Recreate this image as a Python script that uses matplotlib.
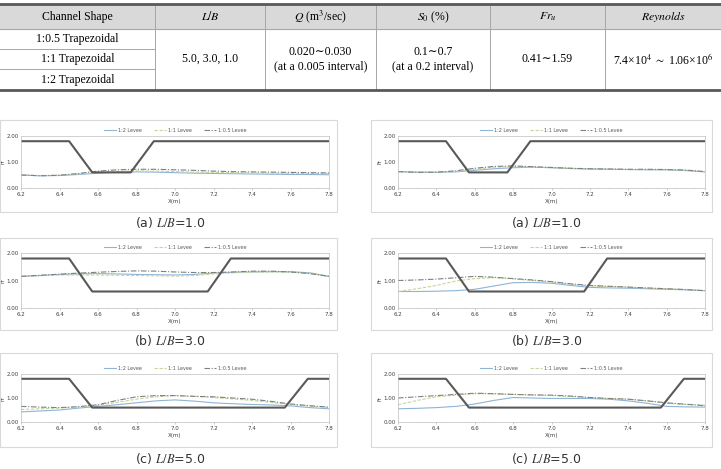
import matplotlib
matplotlib.use("Agg")
import matplotlib.pyplot as plt
from matplotlib.lines import Line2D
from matplotlib.patches import Rectangle

plt.rcParams['mathtext.fontset'] = 'stix'

W, H = 721, 469

# ---- table data ----
table_headers = ["Channel Shape", "$L/B$", "$Q$ (m$^3$/sec)", "$S_0$ (%)", "$Fr_u$", "$Reynolds$"]
channel_shapes = ["1:0.5 Trapezoidal", "1:1 Trapezoidal", "1:2 Trapezoidal"]
lb_text = "5.0, 3.0, 1.0"
q_text = ["0.020\u223c0.030", "(at a 0.005 interval)"]
s0_text = ["0.1\u223c0.7", "(at a 0.2 interval)"]
fr_text = "0.41\u223c1.59"
re_text = "7.4\u00d710$^4$ $\\sim$ 1.06\u00d710$^6$"

# ---- chart data ----
x_fr = [6.2, 6.3, 6.4, 6.5, 6.6, 6.7, 6.8, 6.9, 7.0, 7.1, 7.2, 7.3, 7.4, 7.5, 7.6, 7.7, 7.8]
levee_labels = ["1:2 Levee", "1:1 Levee", "1:0.5 Levee"]

geo_x = {
    1.0: [6.2, 6.45, 6.57, 6.77, 6.89, 7.8],
    3.0: [6.2, 6.45, 6.57, 7.17, 7.29, 7.8],
    5.0: [6.2, 6.45, 6.57, 7.57, 7.69, 7.8],
}
geo_y = [1.8, 1.8, 0.6, 0.6, 1.8, 1.8]

left_lb1 = [
    [0.50, 0.47, 0.48, 0.52, 0.57, 0.61, 0.62, 0.61, 0.59, 0.57, 0.56, 0.55, 0.54, 0.53, 0.52, 0.52, 0.51],
    [0.50, 0.48, 0.49, 0.54, 0.60, 0.64, 0.66, 0.65, 0.63, 0.61, 0.60, 0.59, 0.58, 0.57, 0.56, 0.56, 0.55],
    [0.50, 0.47, 0.49, 0.56, 0.65, 0.70, 0.72, 0.72, 0.70, 0.68, 0.65, 0.63, 0.62, 0.61, 0.60, 0.59, 0.58],
]
right_lb1 = [
    [0.63, 0.61, 0.60, 0.62, 0.68, 0.74, 0.78, 0.80, 0.78, 0.75, 0.73, 0.72, 0.71, 0.70, 0.70, 0.67, 0.62],
    [0.63, 0.61, 0.61, 0.64, 0.72, 0.80, 0.82, 0.81, 0.78, 0.75, 0.73, 0.72, 0.71, 0.71, 0.70, 0.68, 0.63],
    [0.63, 0.60, 0.61, 0.66, 0.76, 0.83, 0.85, 0.82, 0.79, 0.76, 0.74, 0.73, 0.72, 0.72, 0.71, 0.69, 0.63],
]
left_lb3 = [
    [1.15, 1.18, 1.22, 1.24, 1.25, 1.24, 1.22, 1.21, 1.20, 1.22, 1.27, 1.30, 1.31, 1.32, 1.32, 1.28, 1.15],
    [1.15, 1.18, 1.20, 1.20, 1.20, 1.19, 1.18, 1.17, 1.16, 1.18, 1.24, 1.28, 1.30, 1.31, 1.30, 1.26, 1.15],
    [1.15, 1.19, 1.23, 1.27, 1.30, 1.33, 1.35, 1.34, 1.31, 1.29, 1.29, 1.31, 1.34, 1.34, 1.31, 1.25, 1.15],
]
right_lb3 = [
    [0.60, 0.60, 0.61, 0.63, 0.68, 0.80, 0.92, 0.93, 0.90, 0.82, 0.75, 0.73, 0.72, 0.70, 0.68, 0.66, 0.63],
    [0.60, 0.70, 0.82, 0.98, 1.07, 1.10, 1.06, 1.00, 0.94, 0.86, 0.80, 0.78, 0.76, 0.72, 0.70, 0.67, 0.63],
    [1.00, 1.02, 1.05, 1.10, 1.15, 1.12, 1.07, 1.02, 0.96, 0.88, 0.82, 0.79, 0.76, 0.73, 0.70, 0.67, 0.63],
]
left_lb5 = [
    [0.42, 0.46, 0.50, 0.58, 0.65, 0.72, 0.80, 0.88, 0.92, 0.87, 0.80, 0.76, 0.73, 0.71, 0.67, 0.60, 0.55],
    [0.52, 0.55, 0.58, 0.62, 0.70, 0.82, 0.95, 1.05, 1.10, 1.07, 1.02, 0.96, 0.90, 0.82, 0.72, 0.66, 0.60],
    [0.65, 0.62, 0.60, 0.64, 0.72, 0.90, 1.05, 1.10, 1.10, 1.07, 1.05, 1.00, 0.95, 0.86, 0.75, 0.68, 0.62],
]
right_lb5 = [
    [0.55, 0.57, 0.60, 0.65, 0.75, 0.90, 1.02, 1.00, 0.98, 0.98, 0.98, 0.95, 0.88, 0.78, 0.65, 0.63, 0.62],
    [0.72, 0.90, 1.05, 1.12, 1.18, 1.17, 1.15, 1.12, 1.10, 1.06, 1.02, 0.98, 0.95, 0.88, 0.78, 0.73, 0.70],
    [1.00, 1.05, 1.10, 1.15, 1.20, 1.18, 1.15, 1.13, 1.12, 1.08, 1.02, 0.98, 0.95, 0.88, 0.80, 0.74, 0.68],
]

captions = ["(a) $L/B$=1.0", "(b) $L/B$=3.0", "(c) $L/B$=5.0"]

fig = plt.figure(figsize=(W / 100, H / 100), dpi=100)


def fx(x):
    return x / W


def fy(y):
    return 1 - y / H


# ---- table ----
serif = ['Liberation Serif', 'DejaVu Serif']
col_edges = [0, 155, 265, 376, 490, 605, 721]
col_mid = [(col_edges[i] + col_edges[i + 1]) / 2 for i in range(6)]
t_top, t_head, t_bot = 4, 29, 90
row_lines = [49, 69]

fig.patches.append(Rectangle((0, fy(t_head)), 1, fy(t_top) - fy(t_head),
                             transform=fig.transFigure, color='#d9d9d9', zorder=0))
for xe in col_edges[1:-1]:
    fig.add_artist(Line2D([fx(xe), fx(xe)], [fy(t_top), fy(t_bot)], color='#a6a6a6', lw=0.7))
for yl in row_lines:
    fig.add_artist(Line2D([0, fx(155)], [fy(yl), fy(yl)], color='#a6a6a6', lw=0.7))
fig.add_artist(Line2D([0, 1], [fy(t_head), fy(t_head)], color='#a6a6a6', lw=0.7))
fig.add_artist(Line2D([0, 1], [fy(t_top), fy(t_top)], color='#595959', lw=2))
fig.add_artist(Line2D([0, 1], [fy(t_bot), fy(t_bot)], color='#595959', lw=2))

for i, h in enumerate(table_headers):
    fig.text(fx(col_mid[i]), fy(17), h, ha='center', va='center', fontsize=8.5, family=serif)
for i, s in enumerate(channel_shapes):
    fig.text(fx(col_mid[0]), fy([39, 59, 80][i]), s, ha='center', va='center', fontsize=8.5, family=serif)
fig.text(fx(col_mid[1]), fy(59), lb_text, ha='center', va='center', fontsize=8.5, family=serif)
fig.text(fx(col_mid[2]), fy(52), q_text[0], ha='center', va='center', fontsize=8.5, family=serif)
fig.text(fx(col_mid[2]), fy(66), q_text[1], ha='center', va='center', fontsize=8.5, family=serif)
fig.text(fx(col_mid[3]), fy(52), s0_text[0], ha='center', va='center', fontsize=8.5, family=serif)
fig.text(fx(col_mid[3]), fy(66), s0_text[1], ha='center', va='center', fontsize=8.5, family=serif)
fig.text(fx(col_mid[4]), fy(59), fr_text, ha='center', va='center', fontsize=8.5, family=serif)
fig.text(fx(col_mid[5]), fy(59), re_text, ha='center', va='center', fontsize=8.5, family=serif)

# ---- charts ----
# (plot top, plot bottom, box top, box bottom, caption y) in pixels
rows = [(136, 188, 120, 212, 222), (253, 308, 238, 330, 340), (374, 422, 353, 447, 458)]
cols = [(21, 329, 0, 337), (398, 705, 371, 712)]
panel_data = [[left_lb1, right_lb1], [left_lb3, right_lb3], [left_lb5, right_lb5]]
lbs = [1.0, 3.0, 5.0]

levee_colors = ['#8eb4d6', '#c3d69b', '#808080']
levee_styles = ['-', (0, (3, 1.5)), (0, (5, 1.5, 1, 1.5))]

for r, (pt, pb, bt, bb, cy) in enumerate(rows):
    for c, (pl, pr, bl, br) in enumerate(cols):
        fig.patches.append(Rectangle((fx(bl), fy(bb)), fx(br - bl), fy(bt) - fy(bb),
                                     transform=fig.transFigure, fill=False,
                                     edgecolor='#d9d9d9', lw=0.8))
        ax = fig.add_axes([fx(pl), fy(pb), fx(pr - pl), fy(pt) - fy(pb)])
        series = panel_data[r][c]
        for k in range(3):
            ax.plot(x_fr, series[k], color=levee_colors[k], ls=levee_styles[k], lw=0.8,
                    label=levee_labels[k])
        ax.plot(geo_x[lbs[r]], geo_y, color='#595959', lw=1.5)
        ax.set_xlim(6.2, 7.8)
        ax.set_ylim(0, 2)
        ax.set_xticks([6.2, 6.4, 6.6, 6.8, 7.0, 7.2, 7.4, 7.6, 7.8])
        ax.set_xticks([6.2 + 0.05 * i for i in range(33)], minor=True)
        ax.set_xticklabels(['6.2', '6.4', '6.6', '6.8', '7.0', '7.2', '7.4', '7.6', '7.8'])
        ax.set_yticks([0, 1, 2])
        ax.set_yticklabels(['0.00', '1.00', '2.00'])
        ax.tick_params(labelsize=4, length=1.5, width=0.4, color='#a6a6a6', pad=1.5, labelcolor='#404040')
        ax.tick_params(axis='x', which='minor', length=1, width=0.3, color='#a6a6a6')
        ax.tick_params(axis='y', length=0)
        for sp in ax.spines.values():
            sp.set_color('#bfbfbf')
            sp.set_linewidth(0.5)
        ax.set_xlabel('X(m)', fontsize=4, labelpad=1.5, color='#404040')
        ax.set_ylabel('Fr', fontsize=4, labelpad=0.5, color='#404040')
        leg = ax.legend(loc='lower center', bbox_to_anchor=(0.5, 1.0), ncol=3, fontsize=3.5,
                        frameon=False, handlelength=2.5, columnspacing=2.5, borderaxespad=0.3,
                        handletextpad=0.4)
        for t in leg.get_texts():
            t.set_color('#595959')
        fig.text(fx((pl + pr) / 2 - 5), fy(cy), captions[r], ha='center', va='center',
                 fontsize=9, color='#333333')

fig.savefig('out.png', dpi=100)
